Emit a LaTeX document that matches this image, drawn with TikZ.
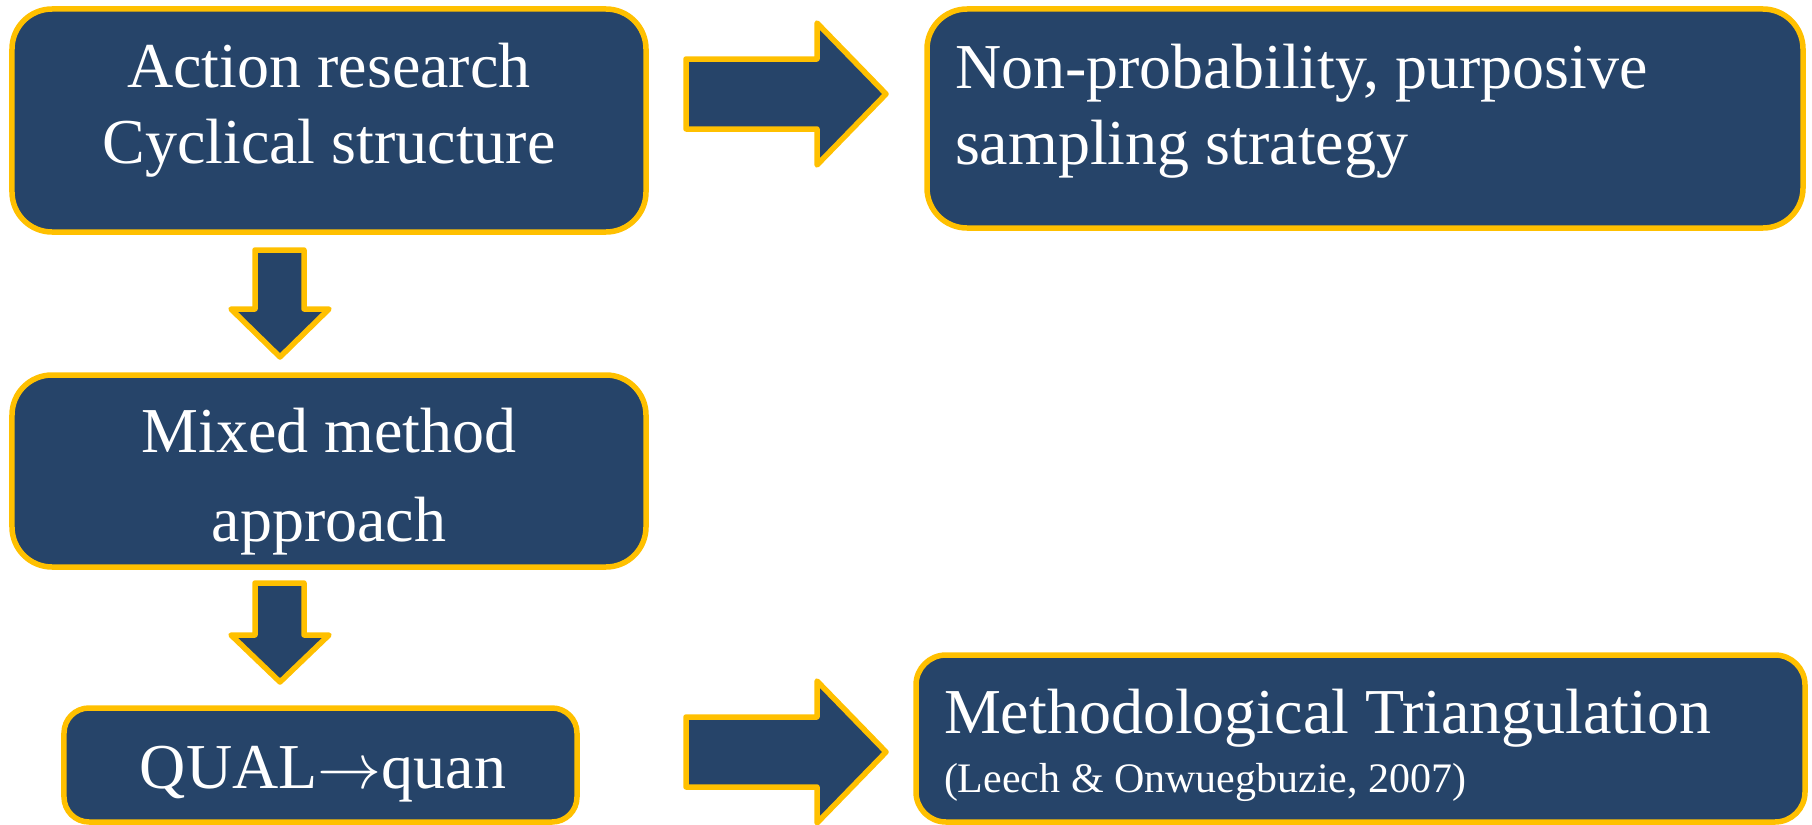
\RequirePackage{fix-cm}
\documentclass[tikz,border=0pt]{standalone}
\usepackage{fontspec}
\setmainfont{Liberation Serif}
\definecolor{navy}{RGB}{38,68,105}
\definecolor{gold}{RGB}{255,192,0}
\begin{document}
\begin{tikzpicture}[x=1bp,y=-1bp,
  box/.style={draw=gold,fill=navy,line width=5.5bp,rectangle,inner sep=0pt,outer sep=0pt},
  bigarrow/.style={draw=gold,fill=navy,line width=5.5bp,line join=round},
  txt/.style={text=white,inner sep=0pt,outer sep=0pt,anchor=base,font=\fontsize{64bp}{70bp}\selectfont},
  txtl/.style={txt,anchor=base west},
  small/.style={text=white,inner sep=0pt,outer sep=0pt,anchor=base west,font=\fontsize{42bp}{48bp}\selectfont}]
\path[use as bounding box] (0,0) rectangle (1812,825);
% boxes
\node[box,rounded corners=40bp,minimum width=634bp,minimum height=223bp] (a) at (329,120.5) {};
\node[box,rounded corners=40bp,minimum width=876bp,minimum height=219bp] (b) at (1365,118.5) {};
\node[box,rounded corners=40bp,minimum width=634bp,minimum height=192bp] (c) at (329,471) {};
\node[box,rounded corners=25bp,minimum width=513bp,minimum height=114bp] (d) at (320.5,765) {};
\node[box,rounded corners=30bp,minimum width=889bp,minimum height=167bp] (e) at (1360.5,738.5) {};
% arrows
\draw[bigarrow] (686,59) -- (817,59) -- (817,23) -- (886,94) -- (817,165) -- (817,129) -- (686,129) -- cycle;
\draw[bigarrow] (686,717) -- (817,717) -- (817,681) -- (886,752) -- (817,823) -- (817,787) -- (686,787) -- cycle;
\draw[bigarrow] (255,250) -- (304,250) -- (304,309) -- (329,309) -- (280,357) -- (231,309) -- (255,309) -- cycle;
\draw[bigarrow] (255,583) -- (304,583) -- (304,635) -- (329,635) -- (280,682) -- (231,635) -- (255,635) -- cycle;
% texts
\node[txt] (a1) at (329,87) {Action research};
\node[txt] (a2) at (329,163) {Cyclical structure};
\node[txtl] (b1) at (955,88) {Non-probability, purposive};
\node[txtl] (b2) at (955,164) {sampling strategy};
\node[txt] (c1) at (329,452) {Mixed method};
\node[txt] (c2) at (329,541) {approach};
\node[txt] (d1) at (323,788) {QUAL$\rightarrow$quan};
\node[txtl] (e1) at (944,733) {Methodological Triangulation};
\node[small] (e2) at (944,792) {(Leech \& Onwuegbuzie, 2007)};
\end{tikzpicture}
\end{document}
